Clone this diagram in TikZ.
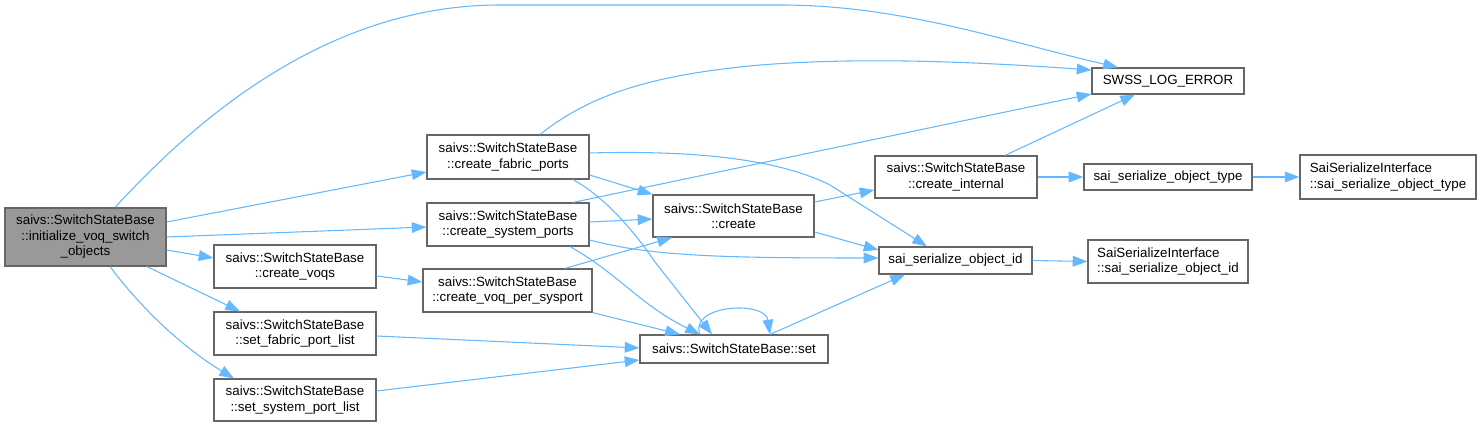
\documentclass[tikz,border=0pt]{standalone}
\usepackage{fontspec}
\setmainfont{Liberation Sans}
\usetikzlibrary{arrows.meta,calc}
\definecolor{edgeblue}{HTML}{63B8FF}
\definecolor{boxgray}{HTML}{666666}
\definecolor{mainfill}{HTML}{999999}
\tikzset{
  fn/.style={draw=boxgray, line width=0.9pt, fill=white, inner sep=0pt, align=center,
    font=\fontsize{10}{11.6}\selectfont},
  sz/.style 2 args={minimum width=#1*0.75pt, minimum height=#2*0.75pt},
  edge/.style={draw=edgeblue, line width=0.8pt, -{Triangle[length=11pt,width=8pt]}},
}
\begin{document}
\begin{tikzpicture}[x=0.75pt,y=-0.75pt]
\useasboundingbox (0,0) rectangle (1481,427);
% nodes
\node[fn, fill=mainfill, sz={161}{58}] (A) at (85.5,237) {saivs::SwitchStateBase\\::initialize\_voq\_switch\\\_objects};
\node[fn, sz={162}{44}] (B) at (508,157) {saivs::SwitchStateBase\\::create\_fabric\_ports};
\node[fn, sz={162}{43}] (C) at (508,224.5) {saivs::SwitchStateBase\\::create\_system\_ports};
\node[fn, sz={162}{43}] (D) at (295,266.5) {saivs::SwitchStateBase\\::create\_voqs};
\node[fn, sz={169}{43}] (E) at (507.5,290.5) {saivs::SwitchStateBase\\::create\_voq\_per\_sysport};
\node[fn, sz={162}{43}] (F) at (295,333.5) {saivs::SwitchStateBase\\::set\_fabric\_port\_list};
\node[fn, sz={162}{42}] (G) at (295,400) {saivs::SwitchStateBase\\::set\_system\_port\_list};
\node[fn, sz={161}{42}] (H) at (733.5,216) {saivs::SwitchStateBase\\::create};
\node[fn, sz={188}{28}] (I) at (734,349) {saivs::SwitchStateBase::set};
\node[fn, sz={152}{26}] (J) at (1168,81) {SWSS\_LOG\_ERROR};
\node[fn, sz={162}{42}] (K) at (956,177) {saivs::SwitchStateBase\\::create\_internal};
\node[fn, sz={168}{26}] (L) at (1168,177) {sai\_serialize\_object\_type};
\node[fn, sz={153}{27}] (M) at (955.5,260.5) {sai\_serialize\_object\_id};
\node[fn, sz={160}{43}, align=left] (N) at (1168,261.5) {SaiSerializeInterface\\::sai\_serialize\_object\_id};
\node[fn, sz={176}{44}, align=left] (O) at (1388,177) {SaiSerializeInterface\\::sai\_serialize\_object\_type};
% edges from A
\draw[edge] ([shift={(29.5,0)}]A.north) .. controls (200,115) and (330,5) .. (500,5) -- (780,5) .. controls (900,5) and (1000,40) .. ([shift={(-50,0)}]J.north);
\draw[edge] ([shift={(0,-15)}]A.east) -- ([shift={(0,15)}]B.west);
\draw[edge] (A.east) -- ([shift={(0,2.5)}]C.west);
\draw[edge] ([shift={(0,13)}]A.east) -- ([shift={(0,-8.5)}]D.west);
\draw[edge] ([shift={(61.5,0)}]A.south) -- ([shift={(-55,0)}]F.north);
\draw[edge] ([shift={(24.5,0)}]A.south) .. controls (150,320) and (195,355) .. ([shift={(-61,0)}]G.north);
% edges from B
\draw[edge] ([shift={(32,0)}]B.north) .. controls (590,95) and (650,75) .. (760,65) .. controls (850,58) and (950,60) .. ([shift={(0,-11)}]J.west);
\draw[edge] ([shift={(0,18)}]B.east) -- (H.north west);
\draw[edge] ([shift={(0,-4)}]B.east) .. controls (700,150) and (780,160) .. (830,185) -- ([shift={(-28.5,0)}]M.north);
\draw[edge] ([shift={(65,0)}]B.south) .. controls (610,200) and (640,240) .. (655,262) -- ([shift={(-22,0)}]I.north);
% edges from C
\draw[edge] ([shift={(65,0)}]C.north) -- ([shift={(0,13)}]J.west);
\draw[edge] ([shift={(0,-2.5)}]C.east) -- ([shift={(0,3)}]H.west);
\draw[edge] ([shift={(0,15.5)}]C.east) .. controls (650,256) and (720,258) .. ([shift={(0,-2.5)}]M.west);
\draw[edge] ([shift={(62,0)}]C.south) .. controls (620,275) and (640,305) .. ([shift={(-34,0)}]I.north);
% others
\draw[edge] ([shift={(0,9.5)}]D.east) -- ([shift={(0,-8.5)}]E.west);
\draw[edge] ([shift={(57.5,0)}]E.north) -- ([shift={(-61.5,0)}]H.south);
\draw[edge] (E.south east) -- ([shift={(-54,0)}]I.north);
\draw[edge] ([shift={(0,2.5)}]F.east) -- ([shift={(0,-1)}]I.west);
\draw[edge] ([shift={(0,-9)}]G.east) -- ([shift={(0,11)}]I.west);
\draw[edge] ([shift={(0,-14)}]H.east) -- ([shift={(0,13)}]K.west);
\draw[edge] ([shift={(0,16)}]H.east) -- ([shift={(0,-10.5)}]M.west);
\draw[edge] ([shift={(-34,0)}]I.north) .. controls (688,305) and (765,300) .. ([shift={(36,0)}]I.north);
\draw[edge] ([shift={(36,0)}]I.north) -- ([shift={(-50.5,0)}]M.south);
\draw[edge] ([shift={(49,0)}]K.north) -- ([shift={(-33,0)}]J.south);
\draw[edge] (K.east) -- (L.west);
\draw[edge] (L.east) -- (O.west);
\draw[edge] (M.east) -- (N.west);
\end{tikzpicture}
\end{document}
